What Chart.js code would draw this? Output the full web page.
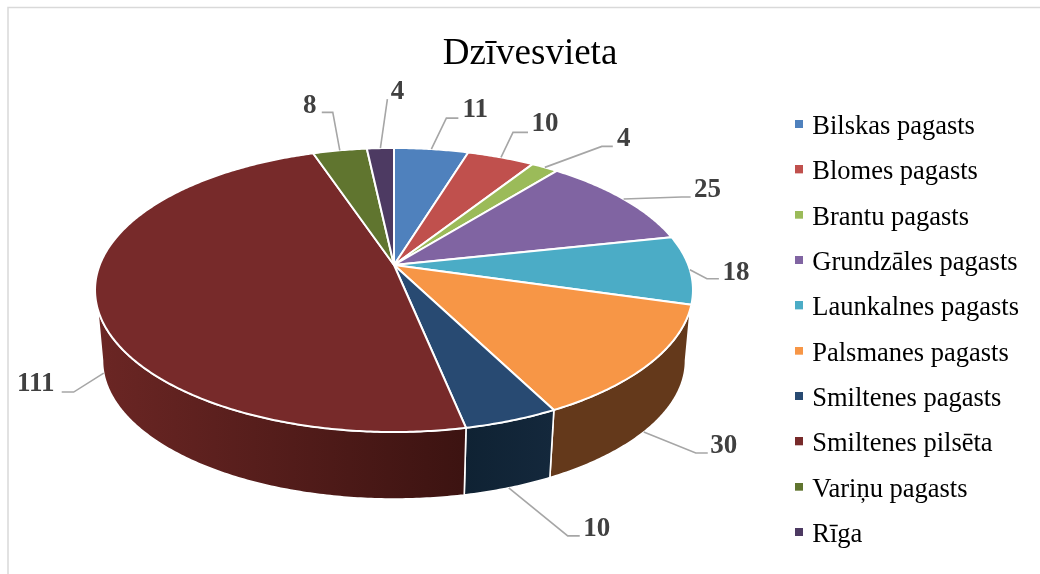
<!DOCTYPE html>
<html>
<head>
<meta charset="utf-8">
<script src="https://cdn.jsdelivr.net/npm/chart.js@4"></script>
<style>html,body{margin:0;padding:0;background:#fff}canvas{display:block}</style>
</head>
<body>
<canvas id="c" width="1040" height="574"></canvas>
<script>
const chartTitle = 'Dzīvesvieta';
const categories = ['Bilskas pagasts','Blomes pagasts','Brantu pagasts','Grundzāles pagasts','Launkalnes pagasts','Palsmanes pagasts','Smiltenes pagasts','Smiltenes pilsēta','Variņu pagasts','Rīga'];
const values = [11,10,4,25,18,30,10,111,8,4];
const topColors = ['#4f81bd','#c0504d','#9bbb59','#8064a2','#4bacc6','#f79646','#284a72','#772a2a','#60752f','#4d3a62'];
const wallFrom = ['#2f4d71','#73302e','#5d7035','#4c3c61','#2d6776','#64391b','#0f2233','#6b2624','#39461c','#2e233a'];
const wallTo   = ['#2f4d71','#73302e','#5d7035','#4c3c61','#2d6776','#64391b','#14283c','#3c1311','#39461c','#2e233a'];

// Offsets of the leader elbow, leader end and label centre from each slice's rim anchor
const leaderElbow = [[15,-31],[12,-25],[57,-21],[58,-2],[17,9],[52,21],[59,48],[-30,19],[-7,-38],[7,-49]];
const leaderEnd   = [[27,-31],[27,-25],[68,-21],[67,-2],[29,9],[64,21],[71,48],[-42,19],[-18,-38],[7,-49]];
const labelOffset = [[44,-39],[44,-33],[79,-28],[84,-9],[46,3],[80,14],[88,41],[-68,11],[-30,-44],[17,-56]];
const labelOnWall = [false,false,false,false,false,true,true,true,false,false];

// Projection of the tilted disc
const PERSP = 0.176, SQUASH = 0.4676, BASE_SCALE = 0.975, BASE_DROP = 71.2;
const SIL = 0.305, BASE_SIL = 0.177;
const SERIF = '"Liberation Serif","Times New Roman",serif';

function topPt(el, a){
  const w = 1 - PERSP*Math.sin(a);
  return [el.x + el.outerRadius*Math.cos(a)/w, el.y + SQUASH*el.outerRadius*Math.sin(a)/w];
}
function basePt(el, a){
  const p = topPt(el, a);
  return [el.x + BASE_SCALE*(p[0]-el.x), el.y + BASE_DROP + BASE_SCALE*(p[1]-el.y)];
}
function samples(a1, a2){
  const n = Math.max(2, Math.ceil(Math.abs(a2-a1)/0.01)), out = [];
  for(let i=0;i<=n;i++) out.push(a1+(a2-a1)*i/n);
  return out;
}
// Legend swatch: an 8px square sitting slightly above the text's middle line
function swatch(color){
  const s = document.createElement('canvas');
  s.width = 8; s.height = 14;
  const x = s.getContext('2d');
  x.fillStyle = color; x.fillRect(0,0,8,8);
  return s;
}

const pie3d = {
  id:'pie3d',
  afterLayout(chart){
    chart.chartArea.left = 99.7; chart.chartArea.right = 688.3;
    chart.chartArea.top = -29.3; chart.chartArea.bottom = 559.3;
    chart.chartArea.width = 588.6; chart.chartArea.height = 588.6;
    const lg = chart.legend;
    const pad = lg.options.labels.padding;
    lg.left = 799 - pad; lg.right = 1040; lg.top = 113.75 - pad; lg.bottom = 640;
    const t = chart.titleBlock;
    t.left = 20; t.right = 1040; t.top = 32; t.bottom = 77;
  },
  beforeDraw(chart){
    const c = chart.ctx;
    c.save();
    c.fillStyle = '#fff'; c.fillRect(0,0,1040,574);
    c.strokeStyle = '#d9d9d9'; c.lineWidth = 1.5;
    c.beginPath(); c.moveTo(8,574); c.lineTo(8,7.5); c.lineTo(1040,7.5); c.stroke();
    c.restore();
  },
  beforeDatasetsDraw(chart){
    const c = chart.ctx, arcs = chart.getDatasetMeta(0).data;
    c.save();
    c.lineJoin = 'round';
    // walls
    arcs.forEach((el,i)=>{
      const a1 = Math.max(el.startAngle, SIL), a2 = Math.min(el.endAngle, Math.PI-SIL);
      if(a2 <= a1) return;
      const b1 = el.startAngle <= SIL ? BASE_SIL : a1;
      const b2 = el.endAngle >= Math.PI-SIL ? Math.PI-BASE_SIL : a2;
      const pts = samples(a1,a2).map(a=>topPt(el,a)).concat(samples(b2,b1).map(a=>basePt(el,a)));
      const xs = pts.map(p=>p[0]);
      const g = c.createLinearGradient(Math.min(...xs),0,Math.max(...xs),0);
      g.addColorStop(0, wallFrom[i]); g.addColorStop(1, wallTo[i]);
      c.beginPath();
      pts.forEach((p,k)=> k ? c.lineTo(p[0],p[1]) : c.moveTo(p[0],p[1]));
      c.closePath();
      c.fillStyle = g; c.fill();
      c.strokeStyle = '#fff'; c.lineWidth = 1.6; c.stroke();
    });
    // top faces
    arcs.forEach((el,i)=>{
      c.beginPath();
      c.moveTo(el.x, el.y);
      samples(el.startAngle, el.endAngle).forEach(a=>{ const p = topPt(el,a); c.lineTo(p[0],p[1]); });
      c.closePath();
      c.fillStyle = el.options.backgroundColor; c.fill();
      c.strokeStyle = '#fff'; c.lineWidth = 2; c.stroke();
    });
    // leaders and value labels
    arcs.forEach((el,i)=>{
      const mid = (el.startAngle+el.endAngle)/2;
      const a = labelOnWall[i] ? basePt(el,mid) : topPt(el,mid);
      c.beginPath();
      c.moveTo(a[0],a[1]);
      c.lineTo(a[0]+leaderElbow[i][0], a[1]+leaderElbow[i][1]);
      c.lineTo(a[0]+leaderEnd[i][0], a[1]+leaderEnd[i][1]);
      c.strokeStyle = '#a6a6a6'; c.lineWidth = 1.6; c.lineJoin='miter'; c.stroke();
      c.fillStyle = '#404040';
      c.font = 'bold 27px '+SERIF;
      c.textAlign = 'center'; c.textBaseline = 'middle';
      c.fillText(String(values[i]), a[0]+labelOffset[i][0], a[1]+labelOffset[i][1]);
    });
    c.restore();
    return false;
  }
};

new Chart(document.getElementById('c'), {
  type:'pie',
  data:{ labels:categories, datasets:[{ data:values, backgroundColor:topColors, borderWidth:0 }] },
  plugins:[pie3d],
  options:{
    responsive:false, animation:false,
    plugins:{
      tooltip:{enabled:false},
      title:{ display:true, text:chartTitle, color:'#000', padding:0, font:{family:SERIF,size:37,weight:'normal',lineHeight:1.2} },
      legend:{ position:'right', align:'start',
        labels:{ color:'#000', font:{family:SERIF,size:26.5}, usePointStyle:true, boxWidth:0.01, boxHeight:8, padding:18.83,
          generateLabels(chart){
            return Chart.overrides.pie.plugins.legend.labels.generateLabels(chart).map((item,i)=>{
              item.pointStyle = swatch(topColors[i]);
              return item;
            });
          } } }
    }
  }
});
</script>
</body>
</html>
